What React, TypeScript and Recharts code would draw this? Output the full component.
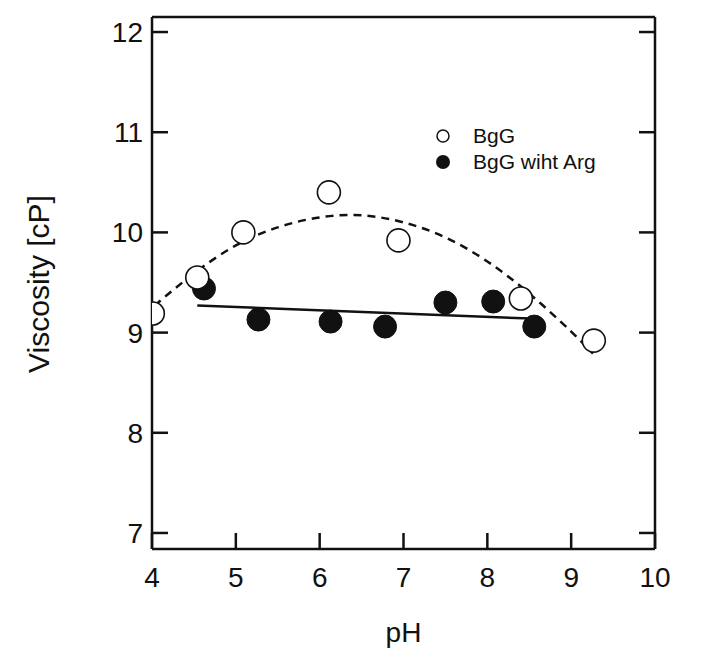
import { ComposedChart, Scatter, Line, XAxis, YAxis, Legend } from 'recharts';

// BgG (open circles)
const bggPH = [4.01, 4.54, 5.09, 6.11, 6.94, 8.4, 9.27];
const bggVisc = [9.19, 9.55, 10.0, 10.4, 9.92, 9.34, 8.92];
// BgG with Arg (filled circles)
const argPH = [4.62, 5.27, 6.13, 6.78, 7.5, 8.07, 8.56];
const argVisc = [9.44, 9.13, 9.11, 9.06, 9.3, 9.31, 9.06];
// straight fit for BgG with Arg
const argFitPH = [4.54, 8.52];
const argFitVisc = [9.27, 9.14];
// dashed curve through BgG
const bggFitPH = [4.03, 4.5, 5.0, 5.5, 6.0, 6.5, 7.0, 7.5, 8.0, 8.5, 9.0, 9.26];
const bggFitVisc = [9.27, 9.59, 9.87, 10.05, 10.15, 10.17, 10.1, 9.95, 9.71, 9.39, 9.01, 8.79];

const xTicks = [4, 5, 6, 7, 8, 9, 10];
const yTicks = [7, 8, 9, 10, 11, 12];

const FONT = '"Liberation Sans", Arial, Helvetica, sans-serif';
const INK = '#111';
const TICK = 16;
const SW = 2.5;

const toPoints = (xs: number[], ys: number[]) => xs.map((x, i) => ({ x, y: ys[i] }));

const bggData = toPoints(bggPH, bggVisc);
const argData = toPoints(argPH, argVisc);
const argFit = toPoints(argFitPH, argFitVisc);
const bggFit = toPoints(bggFitPH, bggFitVisc);

const BottomTick = ({ x, y, payload }: any) => (
  <g>
    <line x1={x} x2={x} y1={y} y2={y - TICK} stroke={INK} strokeWidth={SW} />
    <text x={x} y={y + 38} textAnchor="middle" fontSize={28} fill={INK} fontFamily={FONT}>
      {payload.value}
    </text>
  </g>
);

const TopTick = ({ x, y }: any) => (
  <line x1={x} x2={x} y1={y} y2={y + TICK} stroke={INK} strokeWidth={SW} />
);

const LeftTick = ({ x, y, payload }: any) => (
  <g>
    <line x1={x} x2={x + TICK} y1={y} y2={y} stroke={INK} strokeWidth={SW} />
    <text x={x - 9} y={y} dy="0.36em" textAnchor="end" fontSize={28} fill={INK} fontFamily={FONT}>
      {payload.value}
    </text>
  </g>
);

const RightTick = ({ x, y }: any) => (
  <line x1={x - TICK} x2={x} y1={y} y2={y} stroke={INK} strokeWidth={SW} />
);

const OpenDot = (p: any) => (
  <circle cx={p.cx} cy={p.cy} r={11.5} fill="#fff" stroke={INK} strokeWidth={1.6} />
);

const FilledDot = (p: any) => <circle cx={p.cx} cy={p.cy} r={11.5} fill={INK} stroke={INK} />;

const LegendBox = () => (
  <div style={{ fontFamily: FONT, fontSize: 21, color: INK, lineHeight: '26px' }}>
    <div style={{ display: 'flex', alignItems: 'center', height: 26 }}>
      <svg width={26} height={26}>
        <circle cx={13} cy={13} r={6} fill="#fff" stroke={INK} strokeWidth={1.5} />
      </svg>
      <span style={{ marginLeft: 17 }}>BgG</span>
    </div>
    <div style={{ display: 'flex', alignItems: 'center', height: 26 }}>
      <svg width={26} height={26}>
        <circle cx={13} cy={13} r={7} fill={INK} />
      </svg>
      <span style={{ marginLeft: 17 }}>BgG wiht Arg</span>
    </div>
  </div>
);

export default function App() {
  return (
    <div style={{ position: 'absolute', left: 0, top: 0, background: '#fff' }}>
      <ComposedChart width={712} height={662} margin={{ top: 16, right: 56, bottom: 0, left: 0 }}>
        <XAxis
          dataKey="x"
          type="number"
          domain={[4, 10]}
          ticks={xTicks}
          interval={0}
          allowDataOverflow
          height={113}
          tickSize={0}
          tickMargin={0}
          tickLine={false}
          axisLine={{ stroke: INK, strokeWidth: SW }}
          tick={<BottomTick />}
          label={{
            content: ({ viewBox }: any) => (
              <text
                x={viewBox.x + viewBox.width / 2}
                y={642}
                textAnchor="middle"
                fontSize={28}
                fill={INK}
                fontFamily={FONT}
              >
                pH
              </text>
            ),
          }}
        />
        <XAxis
          xAxisId="top"
          orientation="top"
          type="number"
          domain={[4, 10]}
          ticks={xTicks}
          interval={0}
          allowDataOverflow
          height={1}
          tickSize={0}
          tickMargin={0}
          tickLine={false}
          axisLine={{ stroke: INK, strokeWidth: SW }}
          tick={<TopTick />}
        />
        <YAxis
          dataKey="y"
          type="number"
          domain={[6.84, 12.15]}
          ticks={yTicks}
          interval={0}
          allowDataOverflow
          width={152}
          tickSize={0}
          tickMargin={0}
          tickLine={false}
          axisLine={{ stroke: INK, strokeWidth: SW }}
          tick={<LeftTick />}
          label={{
            content: () => (
              <text
                x={49}
                y={284}
                transform="rotate(-90, 49, 284)"
                textAnchor="middle"
                fontSize={30}
                fill={INK}
                fontFamily={FONT}
              >
                Viscosity [cP]
              </text>
            ),
          }}
        />
        <YAxis
          yAxisId="right"
          orientation="right"
          type="number"
          domain={[6.84, 12.15]}
          ticks={yTicks}
          interval={0}
          allowDataOverflow
          width={1}
          tickSize={0}
          tickMargin={0}
          tickLine={false}
          axisLine={{ stroke: INK, strokeWidth: SW }}
          tick={<RightTick />}
        />
        <Legend
          layout="vertical"
          align="center"
          verticalAlign="middle"
          wrapperStyle={{ left: 430, top: 123, width: 'auto' }}
          content={() => <LegendBox />}
        />
        <Scatter name="BgG wiht Arg" data={argData} dataKey="y" shape={FilledDot} isAnimationActive={false} />
        <Scatter name="BgG" data={bggData} dataKey="y" shape={OpenDot} isAnimationActive={false} />
        <Line
          data={argFit}
          dataKey="y"
          type="linear"
          stroke={INK}
          strokeWidth={2.5}
          dot={false}
          activeDot={false}
          isAnimationActive={false}
        />
        <Line
          data={bggFit}
          dataKey="y"
          type="natural"
          stroke={INK}
          strokeWidth={2.5}
          strokeDasharray="8 6"
          dot={false}
          activeDot={false}
          isAnimationActive={false}
        />
      </ComposedChart>
    </div>
  );
}
